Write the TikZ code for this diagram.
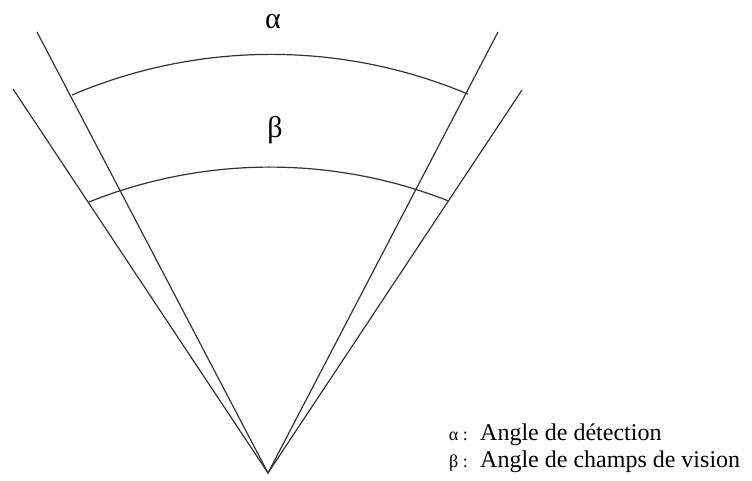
\documentclass[tikz,border=0pt]{standalone}
\usepackage{fontspec}
\setmainfont{Liberation Serif}
\tikzset{
	ray/.style={line width=1.2pt, draw=black!80},
	band/.style={line width=1.2pt, draw=black!80},
	greek/.style={font=\fontsize{30}{34}\selectfont},
	legend/.style={font=\fontsize{24}{27}\selectfont, anchor=base west, inner sep=0pt}
}
\begin{document}
\begin{tikzpicture}[x=1pt,y=-1pt]
			\useasboundingbox (0,0) rectangle (752,481);
			\coordinate (O) at (268,473);
			\coordinate (aL) at (37,32);
			\coordinate (aR) at (498,32);
			\coordinate (bL) at (13,89);
			\coordinate (bR) at (522,90);
			\coordinate (aS) at (72,95);
			\coordinate (bS) at (89,202);
			\draw[ray] (aL) -- (O) -- (aR);
			\draw[ray] (bL) -- (O) -- (bR);
			\draw[band] (aS) arc[start angle=-113.07, end angle=-67.2, radius=508];
			\draw[band] (bS) arc[start angle=-111.83, end angle=-68.52, radius=487];
			\node[greek] (alpha) at (273,22) {α};
			\node[greek] (beta) at (275,130) {β};
			\node[legend] (la) at (480,440) {Angle de détection};
			\node[legend] (lb) at (480,467) {Angle de champs de vision};
			\node[legend, anchor=base east, font=\fontsize{18}{20}\selectfont] (ka) at ([xshift=-12pt]la.base west) {α :};
			\node[legend, anchor=base east, font=\fontsize{18}{20}\selectfont] (kb) at ([xshift=-12pt]lb.base west) {β :};
		\end{tikzpicture}
\end{document}
